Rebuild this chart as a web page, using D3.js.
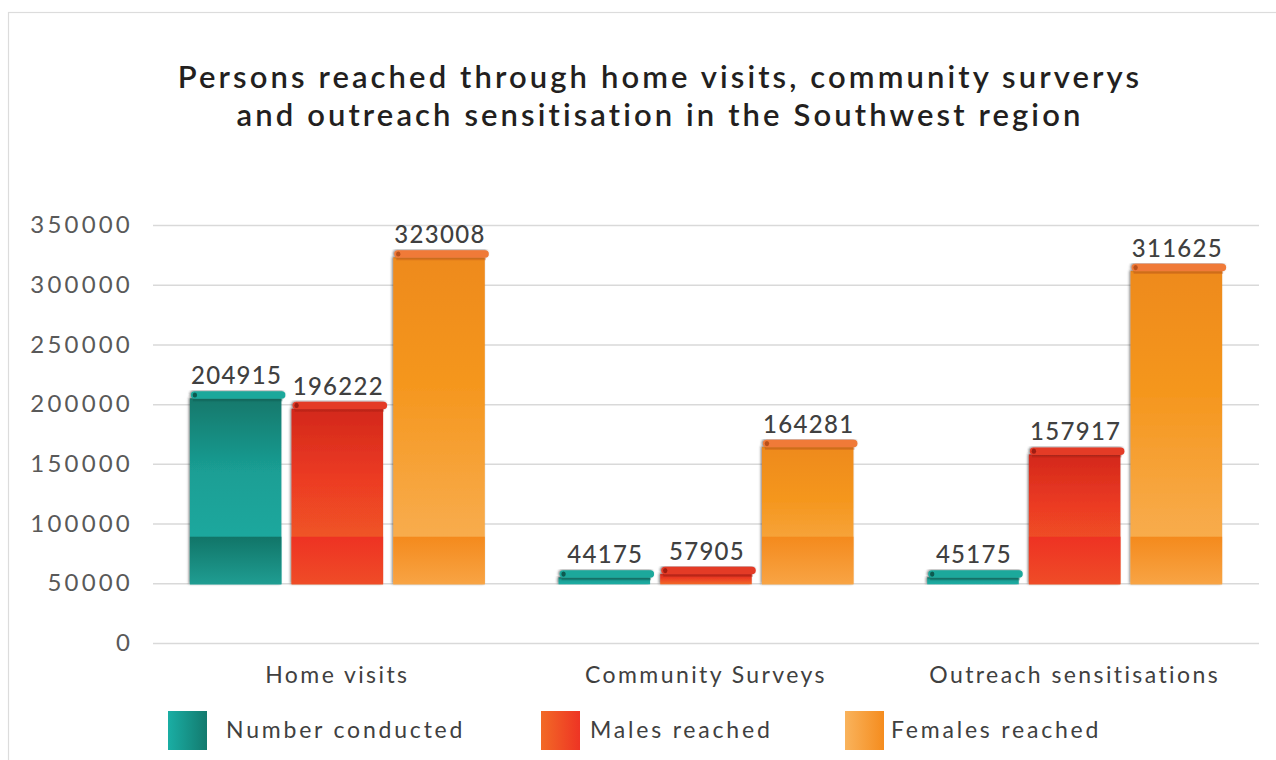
<!DOCTYPE html>
<html>
<head>
<meta charset="utf-8">
<script src="https://cdn.jsdelivr.net/npm/d3@7"></script>
<style>
  body { margin: 0; background: #fff; }
  svg { display: block; }
  text { font-family: Lato, "Open Sans", sans-serif; }
</style>
</head>
<body>
<svg id="chart" width="1276" height="760"></svg>
<script>
// ---- data ----
const categories = ["Home visits", "Community Surveys", "Outreach sensitisations"];
const seriesNames = ["Number conducted", "Males reached", "Females reached"];
const numberConducted = [204915, 44175, 45175];
const malesReached = [196222, 57905, 157917];
const femalesReached = [323008, 164281, 311625];
const yTicks = [0, 50000, 100000, 150000, 200000, 250000, 300000, 350000];
const barBase = 50000;
const titleLines = [
  "Persons reached through home visits, community surverys",
  "and outreach sensitisation in the Southwest region"
];

// ---- styling ----
const palettes = [
  { body: ["#14786b", "#1a9f95", "#1aaea4"], band: ["#117568", "#1f9d92"], legend: ["#1aaea4", "#137a6e"], cap: "#1aa89b", curl: "#0d5a50" },
  { body: ["#d3281a", "#ec3b24", "#f26a26"], band: ["#ee3223", "#ef4c27"], legend: ["#f26a26", "#ee3424"], cap: "#e43a28", curl: "#9e1d12" },
  { body: ["#ee8a1f", "#f5971f", "#f9b35c"], band: ["#f48a1d", "#f8a444"], legend: ["#f9b35c", "#f58c1e"], cap: "#f07a38", curl: "#b9501a" }
];
const bandTopValue = 89000;

const svg = d3.select("#chart");
const W = 1276, H = 760;
const plot = { left: 153, right: 1259, top: 225, bottom: 643 };

// frame
svg.append("rect")
  .attr("x", 8.5).attr("y", 12.5)
  .attr("width", W + 10).attr("height", H + 10)
  .attr("fill", "#fff").attr("stroke", "#dcdcdc").attr("stroke-width", 1.2);

// title
svg.append("g").selectAll("text")
  .data(titleLines)
  .join("text")
  .attr("x", 660)
  .attr("y", (d, i) => 88 + i * 38)
  .attr("text-anchor", "middle")
  .attr("font-size", 31)
  .attr("font-weight", 600)
  .attr("letter-spacing", 3.1)
  .attr("fill", "#231f20")
  .text(d => d);

// scales
const y = d3.scaleLinear().domain([0, 350000]).range([plot.bottom, plot.top]);
const x0 = d3.scaleBand().domain(categories).range([plot.left, plot.right])
  .paddingInner(0.2).paddingOuter(0.1);
const x1 = d3.scaleBand().domain(seriesNames).range([0, x0.bandwidth()])
  .paddingInner(0.1).paddingOuter(0);

// defs: gradients + shadow
const defs = svg.append("defs");
palettes.forEach((p, i) => {
  const gb = defs.append("linearGradient").attr("id", "body" + i)
    .attr("x1", 0).attr("y1", 0).attr("x2", 0).attr("y2", 1);
  gb.append("stop").attr("offset", "0%").attr("stop-color", p.body[0]);
  gb.append("stop").attr("offset", "40%").attr("stop-color", p.body[1]);
  gb.append("stop").attr("offset", "100%").attr("stop-color", p.body[2]);
  const gd = defs.append("linearGradient").attr("id", "band" + i)
    .attr("x1", 0).attr("y1", 0).attr("x2", 0).attr("y2", 1);
  gd.append("stop").attr("offset", "0%").attr("stop-color", p.band[0]);
  gd.append("stop").attr("offset", "100%").attr("stop-color", p.band[1]);
  const gl = defs.append("linearGradient").attr("id", "leg" + i)
    .attr("x1", 0).attr("y1", 0).attr("x2", 1).attr("y2", 0);
  gl.append("stop").attr("offset", "0%").attr("stop-color", p.legend[0]);
  gl.append("stop").attr("offset", "100%").attr("stop-color", p.legend[1]);
});
const shadow = defs.append("filter").attr("id", "edge")
  .attr("x", "-10%").attr("y", "-10%").attr("width", "120%").attr("height", "120%");
shadow.append("feDropShadow").attr("dx", -1.2).attr("dy", -0.5)
  .attr("stdDeviation", 1.1).attr("flood-color", "#2a2a2a").attr("flood-opacity", 0.6);

// gridlines + y labels
const yAxis = d3.axisLeft(y).tickValues(yTicks)
  .tickSize(-(plot.right - plot.left)).tickPadding(20).tickFormat(d3.format("d"));
const gy = svg.append("g").attr("transform", `translate(${plot.left},0)`).call(yAxis);
gy.select(".domain").remove();
gy.selectAll(".tick line").attr("stroke", "#d9d9d9").attr("stroke-width", 1.5);
gy.selectAll(".tick text")
  .attr("font-size", 24).attr("fill", "#595959")
  .attr("font-family", "Lato, sans-serif").attr("letter-spacing", 3.2);

// x labels
const xAxis = d3.axisBottom(x0).tickSize(0).tickPadding(0);
const gx = svg.append("g").attr("transform", `translate(0,${plot.bottom})`).call(xAxis);
gx.select(".domain").remove();
gx.selectAll(".tick text")
  .attr("y", 40).attr("dy", 0)
  .attr("font-size", 23).attr("fill", "#404040")
  .attr("font-family", "Lato, sans-serif").attr("letter-spacing", 2.4);

// bars
const seriesValues = [numberConducted, malesReached, femalesReached];
const rows = [];
categories.forEach((c, ci) => {
  seriesNames.forEach((s, si) => {
    rows.push({ cat: c, series: s, si, value: seriesValues[si][ci] });
  });
});

const yBase = y(barBase);
const minBody = 6;
const bars = svg.append("g").selectAll("g.bar")
  .data(rows)
  .join("g")
  .attr("class", "bar")
  .attr("transform", d => `translate(${x0(d.cat) + x1(d.series)},0)`);

const bw = x1.bandwidth();
const topOf = d => Math.min(y(d.value), yBase - minBody);

bars.append("rect")
  .attr("x", 0).attr("width", bw)
  .attr("y", d => topOf(d))
  .attr("height", d => yBase + 1 - topOf(d))
  .attr("fill", d => `url(#body${d.si})`)
  .attr("filter", "url(#edge)");

// darker lower band of each bar
bars.filter(d => y(d.value) < y(bandTopValue))
  .append("rect")
  .attr("x", 0).attr("width", bw)
  .attr("y", y(bandTopValue))
  .attr("height", yBase + 1 - y(bandTopValue))
  .attr("fill", d => `url(#band${d.si})`);

// rolled cap on top of each bar
const capH = 7.5;
bars.append("rect")
  .attr("x", 3).attr("width", bw - 2)
  .attr("y", d => topOf(d) + 0.5)
  .attr("height", 2.5)
  .attr("fill", d => palettes[d.si].curl).attr("opacity", 0.4);
bars.append("rect")
  .attr("x", 1).attr("width", bw + 3)
  .attr("y", d => topOf(d) - capH + 0.5)
  .attr("height", capH).attr("rx", capH / 2)
  .attr("fill", d => palettes[d.si].cap)
  .attr("filter", "url(#edge)");
bars.append("ellipse")
  .attr("cx", 5)
  .attr("cy", d => topOf(d) - capH / 2 + 0.5)
  .attr("rx", 2.2).attr("ry", 2.6)
  .attr("fill", d => palettes[d.si].curl);

// value labels
bars.append("text")
  .attr("x", bw / 2 + 1)
  .attr("y", d => topOf(d) - 14)
  .attr("text-anchor", "middle")
  .attr("font-size", 24).attr("fill", "#404040")
  .attr("font-weight", 500)
  .attr("letter-spacing", 1.3)
  .text(d => d.value);

// legend
const legendX = [168, 541, 845];
const legend = svg.append("g").selectAll("g")
  .data(seriesNames)
  .join("g")
  .attr("transform", (d, i) => `translate(${legendX[i]},711)`);
legend.append("rect")
  .attr("width", 39).attr("height", 39)
  .attr("fill", (d, i) => `url(#leg${i})`);
legend.append("text")
  .attr("x", (d, i) => [58, 49, 46][i])
  .attr("y", 27)
  .attr("font-size", 23).attr("fill", "#404040")
  .attr("letter-spacing", 2.8)
  .text(d => d);
</script>
</body>
</html>
